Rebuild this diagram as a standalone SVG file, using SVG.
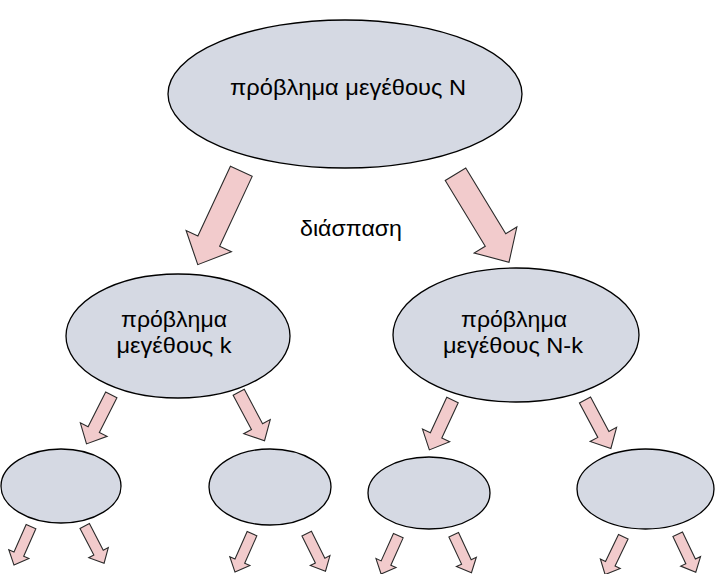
<svg xmlns="http://www.w3.org/2000/svg" width="715" height="574" viewBox="0 0 715 574">
<style>
.node{fill:#d5d9e3;stroke:#000;stroke-width:1.3}
.arr{fill:#f2cbcc;stroke:#2a2a2a;stroke-width:1.1;stroke-linejoin:miter}
text{font-family:"Liberation Sans",Arial,sans-serif;font-size:22px;fill:#000;text-anchor:middle}
</style>
<defs>
<path id="big" d="M0,-12 L77,-12 L77,-25 L103,0 L77,25 L77,12 L0,12Z"/>
<path id="mid" d="M0,-6.3 L39,-6.3 L39,-15 L55,0 L39,15 L39,6.3 L0,6.3Z"/>
<path id="sm" d="M0,-5.3 L30,-5.3 L30,-11 L42,0 L30,11 L30,5.3 L0,5.3Z"/>
</defs>
<g id="connectors">
<use href="#big" class="arr" transform="translate(241.3,171.3) rotate(115)"/>
<use href="#big" class="arr" transform="translate(455.5,174.2) rotate(58.7)"/>
<use href="#mid" class="arr" transform="translate(111.3,394.8) rotate(116.8)"/>
<use href="#mid" class="arr" transform="translate(238.7,392.2) rotate(62)"/>
<use href="#mid" class="arr" transform="translate(452.5,400) rotate(114.9)"/>
<use href="#mid" class="arr" transform="translate(585,400) rotate(61.9)"/>
<use href="#sm" class="arr" transform="translate(31,526.7) rotate(113.9)"/>
<use href="#sm" class="arr" transform="translate(84.7,526) rotate(62.5)"/>
<use href="#sm" class="arr" transform="translate(252,533.7) rotate(113.9)"/>
<use href="#sm" class="arr" transform="translate(306.7,533.7) rotate(63.4)"/>
<use href="#sm" class="arr" transform="translate(398.3,535.7) rotate(114.2)"/>
<use href="#sm" class="arr" transform="translate(453.7,534.7) rotate(65)"/>
<use href="#sm" class="arr" transform="translate(623.3,536.7) rotate(115.7)"/>
<use href="#sm" class="arr" transform="translate(677.7,534.3) rotate(64.5)"/>
</g>
<g id="root">
<ellipse class="node" cx="345" cy="94" rx="177" ry="74"/>
<text x="348" y="95" textLength="236" lengthAdjust="spacingAndGlyphs">πρόβλημα μεγέθους N</text>
</g>
<text x="351" y="236" textLength="102" lengthAdjust="spacingAndGlyphs">διάσπαση</text>
<g id="left">
<ellipse class="node" cx="178" cy="336" rx="112" ry="62"/>
<text x="174" y="327" textLength="106" lengthAdjust="spacingAndGlyphs">πρόβλημα</text>
<text x="174" y="353" textLength="115" lengthAdjust="spacingAndGlyphs">μεγέθους k</text>
</g>
<g id="right">
<ellipse class="node" cx="516" cy="335" rx="123" ry="67"/>
<text x="514" y="327" textLength="106" lengthAdjust="spacingAndGlyphs">πρόβλημα</text>
<text x="513" y="353" textLength="140" lengthAdjust="spacingAndGlyphs">μεγέθους N-k</text>
</g>
<g id="leaf1"><ellipse class="node" cx="61" cy="486" rx="60" ry="37"/></g>
<g id="leaf2"><ellipse class="node" cx="270" cy="487" rx="61" ry="38"/></g>
<g id="leaf3"><ellipse class="node" cx="429" cy="493" rx="61" ry="36"/></g>
<g id="leaf4"><ellipse class="node" cx="645.5" cy="489" rx="68.5" ry="40"/></g>
</svg>
